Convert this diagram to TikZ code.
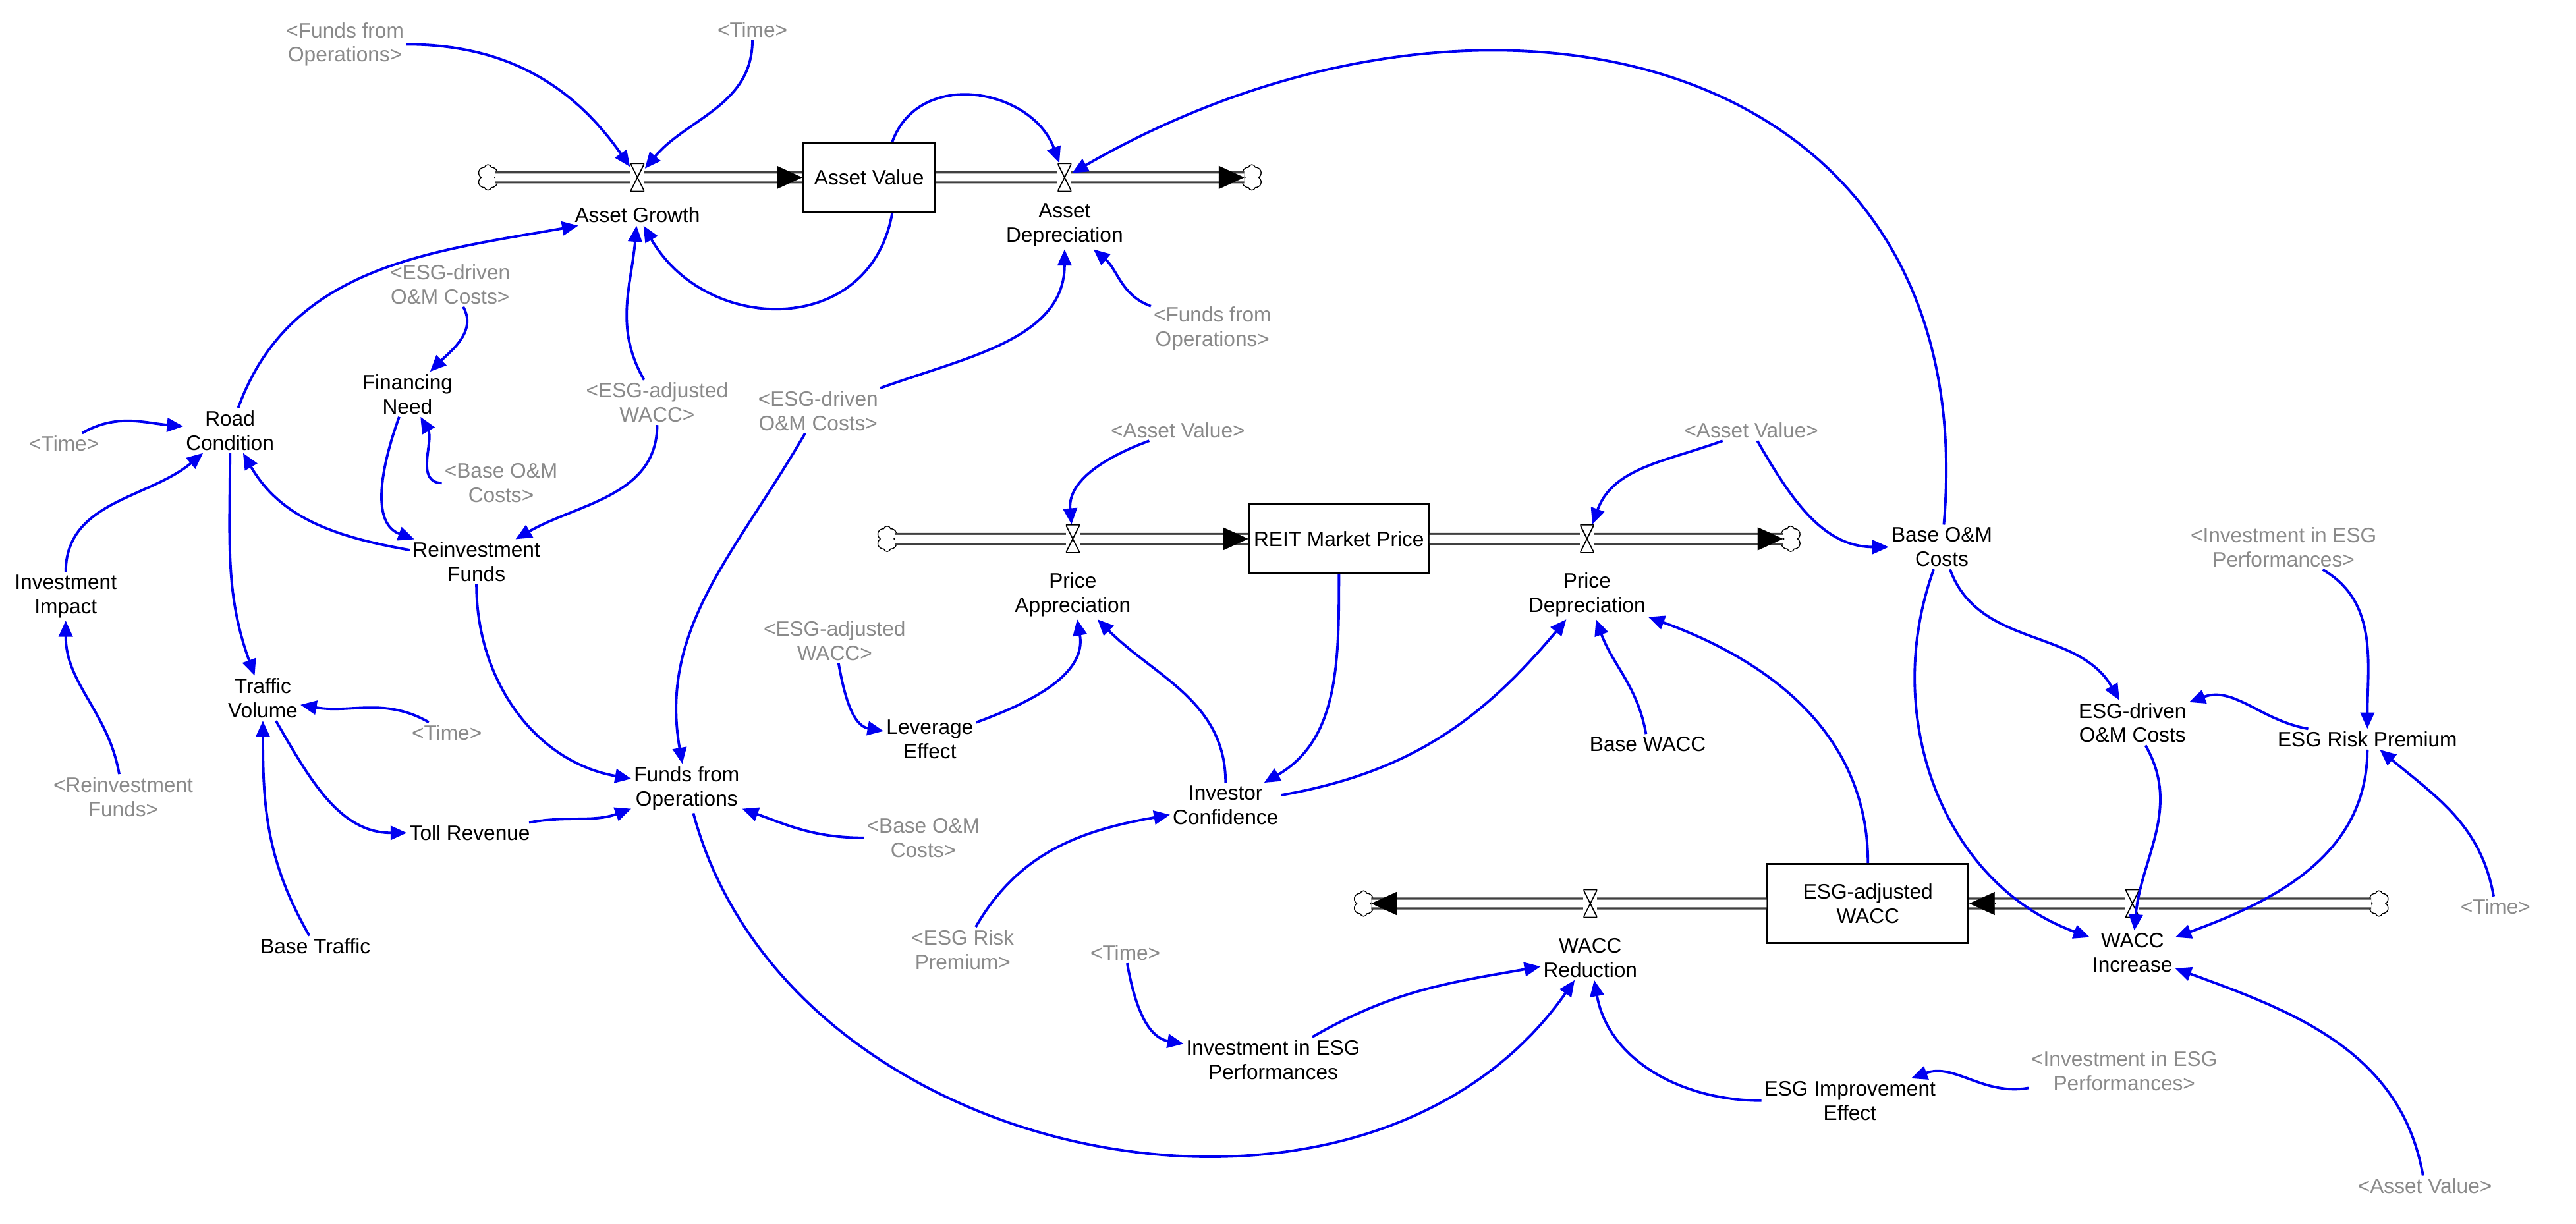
\documentclass[tikz,border=0pt]{standalone}
\usepackage{fontspec}
\setmainfont{Liberation Sans}
\usetikzlibrary{arrows.meta, positioning, shapes.symbols, calc}
\definecolor{sdblue}{HTML}{0000F0}
\definecolor{sdgray}{HTML}{8A8A8A}

\begin{document}
\begin{tikzpicture}[x=0.02494cm, y=0.02494cm,
  every node/.style={font=\fontsize{9pt}{10.5pt}\selectfont},
  var/.style={align=center, inner sep=1pt},
  shadow/.style={align=center, inner sep=1pt, text=sdgray},
  stock/.style={draw, thick, fill=white, minimum height=1.05cm, inner sep=2pt},
  valve/.style={minimum width=6pt, minimum height=12pt, inner sep=0pt, fill=white,
    path picture={\draw[black, line width=0.5pt] (path picture bounding box.north west) -- (path picture bounding box.north east) -- (path picture bounding box.south west) -- (path picture bounding box.south east) -- cycle;}},
  sky/.style={cloud, cloud puffs=6, draw, fill=white, minimum width=9pt, minimum height=11pt, inner sep=0pt, aspect=0.8},
  pipe/.style={draw=black!75, double=white, double distance=3.4pt, line width=0.9pt},
  tip/.style={-{Triangle[length=11pt, width=10pt]}, line width=0.1pt},
  link/.style={sdblue, line width=1.1pt, -{Triangle[length=7pt, width=6pt]}},
]
\useasboundingbox (0,0) rectangle (1568,-745);

% stocks
\node[stock, minimum width=2cm] (AV) at (529,-108) {Asset Value};
\node[stock, minimum width=2.7cm] (RMP) at (815,-328) {REIT Market Price};
\node[stock, minimum width=3.05cm, minimum height=1.2cm, align=center] (EAW) at (1137,-550) {ESG-adjusted\\WACC};

% clouds
\node[sky] (c1) at (297,-108) {};
\node[sky] (c2) at (762,-108) {};
\node[sky] (c3) at (540,-328) {};
\node[sky] (c4) at (1090,-328) {};
\node[sky] (c5) at (1448,-550) {};
\node[sky] (c6) at (830,-550) {};

% pipes
\draw[pipe] (c1.east) -- (AV.west);
\draw[pipe] (AV.east) -- (c2.west);
\draw[pipe] (c3.east) -- (RMP.west);
\draw[pipe] (RMP.east) -- (c4.west);
\draw[pipe] (c5.west) -- (EAW.east);
\draw[pipe] (EAW.west) -- (c6.east);
\draw[tip] ([xshift=-11pt]AV.west) -- (AV.west);
\draw[tip] ([xshift=-11pt]c2.west) -- (c2.west);
\draw[tip] ([xshift=-11pt]RMP.west) -- (RMP.west);
\draw[tip] ([xshift=-11pt]c4.west) -- (c4.west);
\draw[tip] ([xshift=11pt]EAW.east) -- (EAW.east);
\draw[tip] ([xshift=11pt]c6.east) -- (c6.east);

% valves
\node[valve] (vAG) at (388,-108) {};
\node[valve] (vAD) at (648,-108) {};
\node[valve] (vPA) at (653,-328) {};
\node[valve] (vPD) at (966,-328) {};
\node[valve] (vWI) at (1298,-550) {};
\node[valve] (vWR) at (968,-550) {};

% flow names
\node[var] (AG) at (388,-131) {Asset Growth};
\node[var] (AD) at (648,-137) {Asset\\Depreciation};
\node[var] (PA) at (653,-362) {Price\\Appreciation};
\node[var] (PD) at (966,-362) {Price\\Depreciation};
\node[var] (WI) at (1298,-580) {WACC\\Increase};
\node[var] (WR) at (968,-583) {WACC\\Reduction};

% variables
\node[var] (RC) at (140,-262) {Road\\Condition};
\node[var] (FN) at (248,-240) {Financing\\Need};
\node[var] (RF) at (290,-342) {Reinvestment\\Funds};
\node[var] (II) at (40,-363) {Investment\\Impact};
\node[var] (TV) at (160,-425) {Traffic\\Volume};
\node[var] (TR) at (286,-507) {Toll Revenue};
\node[var] (BT) at (192,-576) {Base Traffic};
\node[var] (FFO) at (418,-480) {Funds from\\Operations};
\node[var] (LE) at (566,-450) {Leverage\\Effect};
\node[var] (IC) at (746,-490) {Investor\\Confidence};
\node[var] (BW) at (1003,-453) {Base WACC};
\node[var] (BOM) at (1182,-333) {Base O\&M\\Costs};
\node[var] (EOM) at (1298,-440) {ESG-driven\\O\&M Costs};
\node[var] (ERP) at (1441,-450) {ESG Risk Premium};
\node[var] (IEP) at (775,-645) {Investment in ESG\\Performances};
\node[var] (EIE) at (1126,-670) {ESG Improvement\\Effect};

% shadow variables
\node[shadow] (sFFO1) at (210,-27) {<Funds from\\Operations>};
\node[shadow] (sTime1) at (458,-18) {<Time>};
\node[shadow] (sEOM1) at (274,-173) {<ESG-driven\\O\&M Costs>};
\node[shadow] (sEAW1) at (400,-245) {<ESG-adjusted\\WACC>};
\node[shadow] (sBOM1) at (305,-294) {<Base O\&M\\Costs>};
\node[shadow] (sTime2) at (39,-270) {<Time>};
\node[shadow] (sFFO2) at (738,-200) {<Funds from\\Operations>};
\node[shadow] (sEOM2) at (498,-250) {<ESG-driven\\O\&M Costs>};
\node[shadow] (sAV1) at (717,-262) {<Asset Value>};
\node[shadow] (sAV2) at (1066,-262) {<Asset Value>};
\node[shadow] (sIEP1) at (1390,-333) {<Investment in ESG\\Performances>};
\node[shadow] (sEAW2) at (508,-390) {<ESG-adjusted\\WACC>};
\node[shadow] (sTime3) at (272,-446) {<Time>};
\node[shadow] (sRF) at (75,-485) {<Reinvestment\\Funds>};
\node[shadow] (sBOM2) at (562,-510) {<Base O\&M\\Costs>};
\node[shadow] (sERP) at (586,-578) {<ESG Risk\\Premium>};
\node[shadow] (sTime4) at (685,-580) {<Time>};
\node[shadow] (sIEP2) at (1293,-652) {<Investment in ESG\\Performances>};
\node[shadow] (sTime5) at (1519,-552) {<Time>};
\node[shadow] (sAV3) at (1476,-722) {<Asset Value>};

% links
\draw[link] (sFFO1) to[out=0, in=125] (vAG);
\draw[link] (sTime1) to[out=270, in=50] (vAG);
\draw[link] ([xshift=10pt]AV.south) to[out=260, in=300, looseness=1.3] (AG);
\draw[link] ([xshift=10pt]AV.north) to[out=70, in=110, looseness=1.2] (vAD);
\draw[link] (sEAW1) to[out=120, in=265] (AG);
\draw[link] (RC) to[out=70, in=190] (AG);
\draw[link] (sEOM1) to[out=300, in=45] (FN);
\draw[link] (sBOM1) to[out=180, in=300] (FN);
\draw[link] (FN) to[out=250, in=160] (RF);
\draw[link] (sEAW1) to[out=270, in=30] (RF);
\draw[link] (RF) to[out=170, in=300] (RC);
\draw[link] (RF) to[out=270, in=170] (FFO);
\draw[link] (sTime2) to[out=30, in=175] (RC);
\draw[link] (II) to[out=90, in=220] (RC);
\draw[link] (RC) to[out=270, in=110] (TV);
\draw[link] (sRF) to[out=100, in=270] (II);
\draw[link] (sTime3) to[out=150, in=-10] (TV);
\draw[link] (BT) to[out=120, in=270] (TV);
\draw[link] (TV) to[out=300, in=180] (TR);
\draw[link] (TR) to[out=10, in=200] (FFO);
\draw[link] (sBOM2) to[out=180, in=-20] (FFO);
\draw[link] (sEOM2) to[out=240, in=100] (FFO);
\draw[link] (sEOM2) to[out=20, in=270] (AD);
\draw[link] (sFFO2) to[out=160, in=-40] (AD);
\draw[link] (BOM) to[out=85, in=30, looseness=1.3] (vAD);
\draw[link] (sAV1) to[out=200, in=95] (vPA);
\draw[link] (RMP) to[out=270, in=30] (IC);
\draw[link] (sEAW2) to[out=280, in=170] (LE);
\draw[link] (LE) to[out=20, in=280] (PA);
\draw[link] (IC) to[out=90, in=-45] (PA);
\draw[link] (IC) to[out=10, in=230] (PD);
\draw[link] (sAV2) to[out=200, in=70] (vPD);
\draw[link] (sAV2) to[out=300, in=180] (BOM);
\draw[link] (BW) to[out=100, in=290] (PD);
\draw[link] (EAW) to[out=90, in=-20] (PD);
\draw[link] (BOM) to[out=290, in=120] (EOM);
\draw[link] (BOM) to[out=250, in=160] (WI);
\draw[link] (sIEP1) to[out=330, in=90] (ERP);
\draw[link] (ERP) to[out=170, in=20] (EOM);
\draw[link] (EOM) to[out=300, in=85] (WI);
\draw[link] (ERP) to[out=270, in=20] (WI);
\draw[link] (sTime5) to[out=100, in=-40] (ERP);
\draw[link] (sAV3) to[out=100, in=-20] (WI);
\draw[link] (sIEP2) to[out=190, in=20] (EIE);
\draw[link] (EIE) to[out=180, in=280] (WR);
\draw[link] (IEP) to[out=30, in=190] (WR);
\draw[link] (sTime4) to[out=280, in=170] (IEP);
\draw[link] (sERP) to[out=60, in=190] (IC);
\draw[link] (FFO) to[out=285, in=235, looseness=1.05] (WR);
\end{tikzpicture}
\end{document}
